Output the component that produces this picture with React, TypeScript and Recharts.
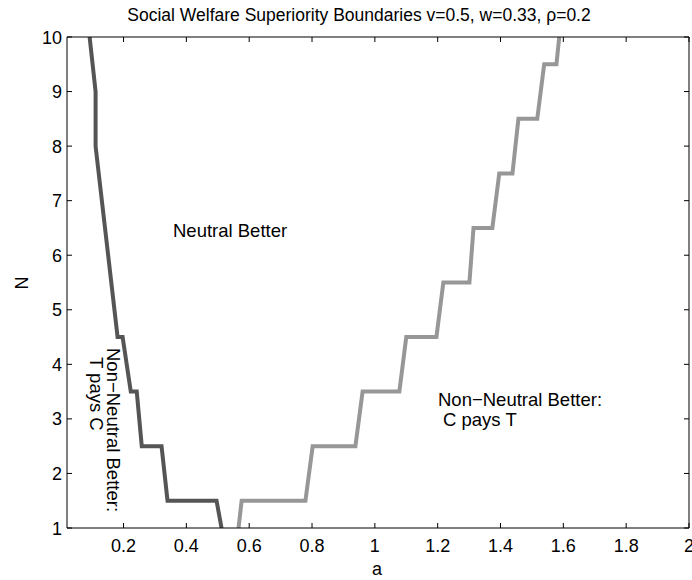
import { LineChart, Line, XAxis, YAxis } from 'recharts'

// left boundary (dark): non-neutral better where T pays C
const darkA = [0.092, 0.111, 0.111, 0.181, 0.197, 0.223, 0.242, 0.258, 0.321, 0.340, 0.496, 0.512]
const darkN = [10, 9, 8, 4.5, 4.5, 3.5, 3.5, 2.5, 2.5, 1.5, 1.5, 1]

// right boundary (light): non-neutral better where C pays T
const lightA = [0.566, 0.576, 0.779, 0.802, 0.938, 0.961, 1.078, 1.100, 1.196, 1.218, 1.301, 1.314, 1.374, 1.396, 1.438, 1.457, 1.517, 1.539, 1.578, 1.587]
const lightN = [1, 1.5, 1.5, 2.5, 2.5, 3.5, 3.5, 4.5, 4.5, 5.5, 5.5, 6.5, 6.5, 7.5, 7.5, 8.5, 8.5, 9.5, 9.5, 10]

const xTicks = [0.2, 0.4, 0.6, 0.8, 1, 1.2, 1.4, 1.6, 1.8, 2]
const yTicks = [1, 2, 3, 4, 5, 6, 7, 8, 9, 10]

const darkData = darkA.map((a, i) => ({ a, N: darkN[i] }))
const lightData = lightA.map((a, i) => ({ a, N: lightN[i] }))

const FONT = '"Liberation Sans", Arial, Helvetica, sans-serif'
const TICK_LEN = 5
const TICK_FS = 18
const NOTE_FS = 18.5

function BottomTick({ x, y, payload }: any) {
  return (
    <g>
      <line x1={x} x2={x} y1={y} y2={y - TICK_LEN} stroke="#000" />
      <text x={x} y={y + 24} textAnchor="middle" fontSize={TICK_FS} fontFamily={FONT} fill="#000">
        {String(payload.value)}
      </text>
    </g>
  )
}

function LeftTick({ x, y, payload }: any) {
  return (
    <g>
      <line x1={x} x2={x + TICK_LEN} y1={y} y2={y} stroke="#000" />
      <text x={x - 5} y={y + 6.5} textAnchor="end" fontSize={TICK_FS} fontFamily={FONT} fill="#000">
        {String(payload.value)}
      </text>
    </g>
  )
}

function TopTick({ x, y }: any) {
  return <line x1={x} x2={x} y1={y} y2={y + TICK_LEN} stroke="#000" />
}

function RightTick({ x, y }: any) {
  return <line x1={x} x2={x - TICK_LEN} y1={y} y2={y} stroke="#000" />
}

export default function App() {
  return (
    <div style={{ position: 'absolute', left: 0, top: 0, background: '#fff' }}>
      <LineChart width={692} height={580} margin={{ top: 0, right: 0, bottom: 0, left: 0 }}>
        <XAxis
          xAxisId="bottom"
          type="number"
          dataKey="a"
          domain={[0.02, 2]}
          allowDataOverflow
          ticks={xTicks}
          height={52}
          tickSize={0}
          tickMargin={0}
          tickLine={false}
          axisLine={{ stroke: '#000' }}
          tick={<BottomTick />}
          interval={0}
        />
        <XAxis
          xAxisId="top"
          orientation="top"
          type="number"
          dataKey="a"
          domain={[0.02, 2]}
          allowDataOverflow
          ticks={xTicks}
          height={37}
          tickSize={0}
          tickMargin={0}
          tickLine={false}
          axisLine={{ stroke: '#000' }}
          tick={<TopTick />}
          interval={0}
        />
        <YAxis
          yAxisId="left"
          type="number"
          dataKey="N"
          domain={[1, 10]}
          allowDataOverflow
          ticks={yTicks}
          width={67}
          tickSize={0}
          tickMargin={0}
          tickLine={false}
          axisLine={{ stroke: '#000' }}
          tick={<LeftTick />}
          interval={0}
        />
        <YAxis
          yAxisId="right"
          orientation="right"
          type="number"
          dataKey="N"
          domain={[1, 10]}
          allowDataOverflow
          ticks={yTicks}
          width={3}
          tickSize={0}
          tickMargin={0}
          tickLine={false}
          axisLine={{ stroke: '#000' }}
          tick={<RightTick />}
          interval={0}
        />
        <Line
          xAxisId="bottom"
          yAxisId="left"
          data={darkData}
          dataKey="N"
          type="linear"
          stroke="#555555"
          strokeWidth={4}
          dot={false}
          isAnimationActive={false}
        />
        <Line
          xAxisId="bottom"
          yAxisId="left"
          data={lightData}
          dataKey="N"
          type="linear"
          stroke="#979797"
          strokeWidth={4}
          dot={false}
          isAnimationActive={false}
        />

        <text x={359} y={21} textAnchor="middle" fontSize={17.5} fontFamily={FONT} fill="#000">
          Social Welfare Superiority Boundaries v=0.5, w=0.33, ρ=0.2
        </text>
        <text x={377} y={575} textAnchor="middle" fontSize={TICK_FS} fontFamily={FONT} fill="#000">
          a
        </text>
        <text x={28} y={283} textAnchor="middle" fontSize={TICK_FS} fontFamily={FONT} fill="#000" transform="rotate(-90 28 283)">
          N
        </text>
        <text x={173} y={237} fontSize={NOTE_FS} fontFamily={FONT} fill="#000">
          Neutral Better
        </text>
        <text x={438} y={406} fontSize={NOTE_FS} fontFamily={FONT} fill="#000">
          Non−Neutral Better:
        </text>
        <text x={443} y={426} fontSize={NOTE_FS} fontFamily={FONT} fill="#000">
          C pays T
        </text>
        <text x={107} y={348} fontSize={NOTE_FS} fontFamily={FONT} fill="#000" transform="rotate(90 107 348)">
          Non−Neutral Better:
        </text>
        <text x={90} y={357} fontSize={NOTE_FS} fontFamily={FONT} fill="#000" transform="rotate(90 90 357)">
          T pays C
        </text>
      </LineChart>
    </div>
  )
}
